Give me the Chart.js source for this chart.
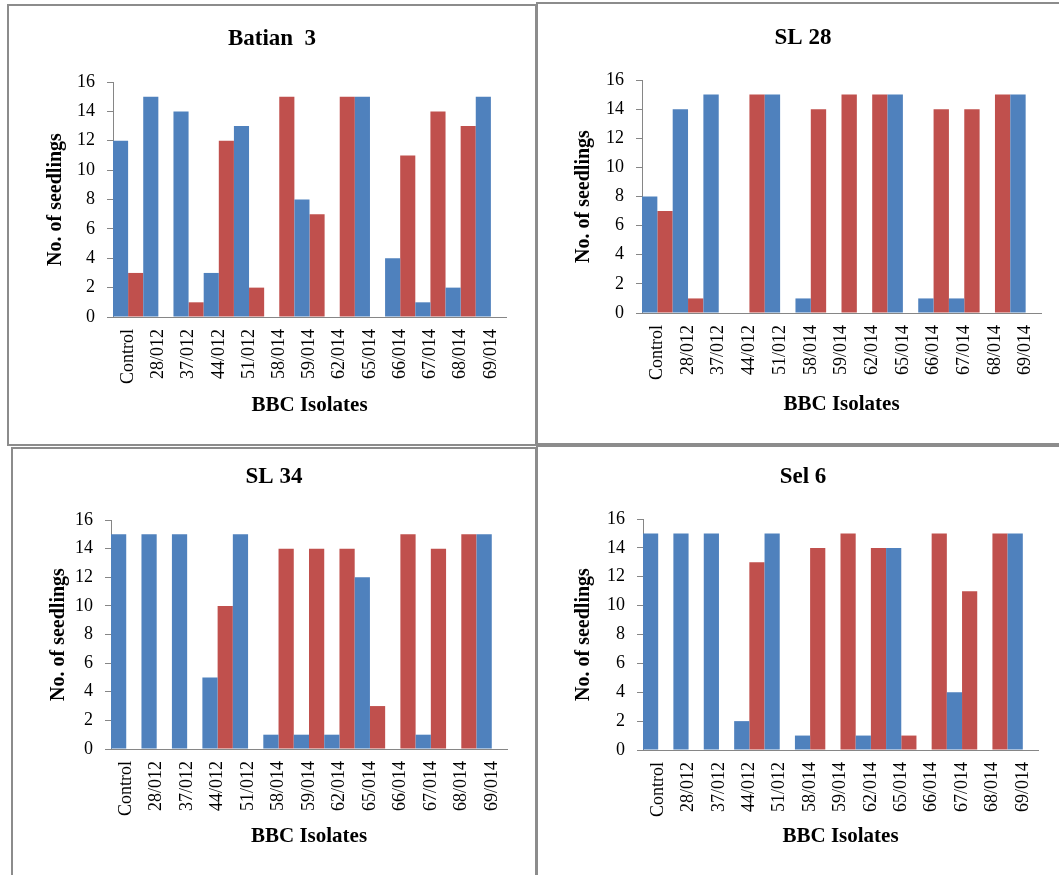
<!DOCTYPE html>
<html>
<head>
<meta charset="utf-8">
<script src="https://cdn.jsdelivr.net/npm/chart.js@4/dist/chart.umd.min.js"></script>
<style>
  html, body { margin: 0; padding: 0; background: #fff; width: 1059px; height: 875px; overflow: hidden; position: relative; }
  .panel { position: absolute; box-sizing: border-box; border: 2px solid #8c8c8c; }
  canvas { position: absolute; }
</style>
</head>
<body>
<div class="panel" style="left:7px;top:4px;width:530px;height:442px"></div>
<div class="panel" style="left:536px;top:2px;width:540px;height:443px"></div>
<div class="panel" style="left:11px;top:447px;width:526px;height:440px"></div>
<div class="panel" style="left:536px;top:445px;width:540px;height:440px"></div>
<canvas id="batian3"></canvas>
<canvas id="sl28"></canvas>
<canvas id="sl34"></canvas>
<canvas id="sel6"></canvas>
<script>
// Isolates tested on each coffee variety
const categories = ['Control', '28/012', '37/012', '44/012', '51/012', '58/014', '59/014',
                    '62/014', '65/014', '66/014', '67/014', '68/014', '69/014'];
const yTickValues = [0, 2, 4, 6, 8, 10, 12, 14, 16];

// Seedling counts: first (blue) and second (red) series per variety
const batian3Blue = [12, 15, 14, 3, 13, 0, 8, 0, 15, 4, 1, 2, 15];
const batian3Red  = [3, 0, 1, 12, 2, 15, 7, 15, 0, 11, 14, 13, 0];
const sl28Blue = [8, 14, 15, 0, 15, 1, 0, 0, 15, 1, 1, 0, 15];
const sl28Red  = [7, 1, 0, 15, 0, 14, 15, 15, 0, 14, 14, 15, 0];
const sl34Blue = [15, 15, 15, 5, 15, 1, 1, 1, 12, 0, 1, 0, 15];
const sl34Red  = [0, 0, 0, 10, 0, 14, 14, 14, 3, 15, 14, 15, 0];
const sel6Blue = [15, 15, 15, 2, 15, 1, 0, 1, 14, 0, 4, 0, 15];
const sel6Red  = [0, 0, 0, 13, 0, 14, 15, 14, 1, 15, 11, 15, 0];

const SERIF = "'Liberation Serif', 'Times New Roman', serif";
const AXIS = '#868686';
const BLUE = '#4F81BD';
const RED = '#C0504D';

// box: canvas rect and the page positions of plot area and titles
function makeChart(id, name, blue, red, box) {
  const canvas = document.getElementById(id);
  canvas.width = box.w; canvas.height = box.h;
  canvas.style.left = box.x + 'px'; canvas.style.top = box.y + 'px';
  canvas.style.width = box.w + 'px'; canvas.style.height = box.h + 'px';

  // equal side padding keeps the chart title centred on the canvas
  const padSide = box.x + box.w - box.area.r;

  const tSize = 23, tLH = tSize * 1.2;
  const titleTop = box.titleY - box.y - tLH / 2;
  const titleBottom = (box.area.t - box.y) - titleTop - tLH;

  const ySize = 20, yLH = ySize * 1.2;
  const yAxisW = box.area.l - box.x - padSide;
  const yTitlePad = box.yTitleX - box.x - padSide - yLH / 2;

  const xSize = 21, xLH = xSize * 1.2;
  const xAxisH = box.y + box.h - box.area.b;
  const xTitlePad = box.y + box.h - box.xTitleY - xLH / 2;

  const barStyle = { borderWidth: 0, inflateAmount: 0, categoryPercentage: 1, barPercentage: 1 };

  return new Chart(canvas, {
    type: 'bar',
    data: {
      labels: categories,
      datasets: [
        Object.assign({ label: 'Series 1', data: blue, backgroundColor: BLUE }, barStyle),
        Object.assign({ label: 'Series 2', data: red, backgroundColor: RED }, barStyle)
      ]
    },
    options: {
      responsive: false,
      animation: false,
      devicePixelRatio: 1,
      layout: { padding: { left: padSide, right: padSide, top: 0, bottom: 0 } },
      plugins: {
        legend: { display: false },
        tooltip: { enabled: false },
        title: {
          display: true, text: name, color: '#000',
          font: { family: SERIF, size: tSize, weight: 'bold', lineHeight: 1.2 },
          padding: { top: titleTop, bottom: titleBottom }
        }
      },
      scales: {
        x: {
          offset: true,
          grid: { display: false, drawTicks: false },
          border: { display: true, color: AXIS, width: 1 },
          ticks: {
            autoSkip: false, maxRotation: 90, minRotation: 90, padding: 12,
            color: '#000', font: { family: SERIF, size: 18 }
          },
          title: {
            display: true, text: 'BBC Isolates', color: '#000',
            font: { family: SERIF, size: xSize, weight: 'bold', lineHeight: 1.2 },
            padding: { top: 0, bottom: xTitlePad }
          },
          afterFit: s => { s.height = xAxisH; }
        },
        y: {
          min: 0, max: 16,
          afterBuildTicks: s => { s.ticks = yTickValues.map(v => ({ value: v })); },
          grid: { display: true, drawOnChartArea: false, drawTicks: true, tickLength: 6, color: AXIS },
          border: { display: true, color: AXIS, width: 1 },
          ticks: { padding: 12, color: '#000', font: { family: SERIF, size: 18 } },
          title: {
            display: true, text: 'No. of seedlings', color: '#000',
            font: { family: SERIF, size: ySize, weight: 'bold', lineHeight: 1.2 },
            padding: { top: yTitlePad, bottom: 0 }
          },
          afterFit: s => { s.width = yAxisW; }
        }
      }
    }
  });
}

makeChart('batian3', 'Batian  3', batian3Blue, batian3Red,
  { x: 10, y: 7, w: 524, h: 437, area: { l: 113, r: 506, t: 82, b: 317 }, titleY: 39, yTitleX: 56, xTitleY: 406 });
makeChart('sl28', 'SL 28', sl28Blue, sl28Red,
  { x: 539, y: 6, w: 528, h: 436, area: { l: 642, r: 1041, t: 80, b: 313 }, titleY: 38, yTitleX: 584, xTitleY: 405 });
makeChart('sl34', 'SL 34', sl34Blue, sl34Red,
  { x: 14, y: 450, w: 520, h: 425, area: { l: 111, r: 507, t: 520, b: 749 }, titleY: 477, yTitleX: 59, xTitleY: 837 });
makeChart('sel6', 'Sel 6', sel6Blue, sel6Red,
  { x: 539, y: 448, w: 528, h: 427, area: { l: 643, r: 1038, t: 519, b: 750 }, titleY: 477, yTitleX: 584, xTitleY: 837 });
</script>
</body>
</html>
